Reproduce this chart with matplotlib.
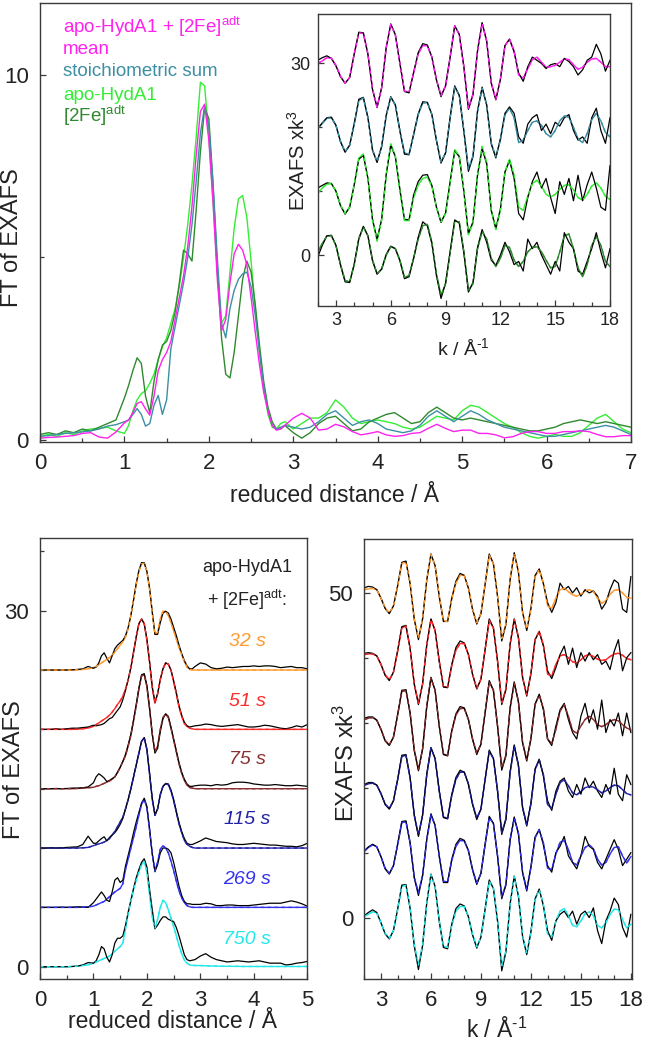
import numpy as np
import matplotlib
matplotlib.use('Agg')
import matplotlib.pyplot as plt
from matplotlib.ticker import MultipleLocator

plt.rcParams['font.family'] = ['Liberation Sans', 'DejaVu Sans']
plt.rcParams['mathtext.fontset'] = 'custom'
plt.rcParams['mathtext.rm'] = 'Liberation Sans'
plt.rcParams['mathtext.it'] = 'Liberation Sans:italic'

# ---- sampling grids (distance R in A, wavevector k in 1/A) ----
R_top = np.round(np.concatenate([np.arange(0, 0.95, 0.1), np.arange(1.0, 2.93, 0.05), np.arange(3.0, 7.05, 0.1)]), 2)
R_bot = np.round(np.concatenate([np.arange(0, 0.95, 0.1), np.arange(1.0, 2.93, 0.05), np.arange(3.0, 5.05, 0.1)]), 2)
K = np.round(np.arange(2.0, 18.01, 0.25), 2)

# ---- top panel: FT of EXAFS ----
mean_ft = [0.05, 0.07, 0.08, 0.10, 0.12, 0.18, 0.20, 0.08, 0.05, 0.22,
           0.47, 0.55, 0.75, 1.00, 1.05, 0.85, 0.68, 1.20, 1.90, 2.20,
           2.40, 2.70, 3.30, 3.90, 4.50, 5.30, 6.40, 7.80, 9.00, 9.20,
           8.20, 6.50, 4.40, 3.00, 3.30, 4.30, 5.10, 5.36, 5.20, 4.80,
           3.90, 2.95, 2.05, 1.30, 0.80, 0.40, 0.27, 0.30, 0.40,
           0.60, 0.73, 0.60, 0.27, 0.30, 0.43, 0.36, 0.23, 0.14, 0.18,
           0.23, 0.14, 0.10, 0.12, 0.18, 0.20, 0.32, 0.43, 0.32, 0.23,
           0.27, 0.27, 0.18, 0.18, 0.14, 0.06, 0.09, 0.18, 0.23, 0.23,
           0.18, 0.18, 0.23, 0.23, 0.25, 0.23, 0.15, 0.09, 0.09, 0.12,
           0.12]
sum_ft = [0.10, 0.12, 0.15, 0.18, 0.20, 0.22, 0.25, 0.30, 0.38, 0.42,
          0.50, 0.55, 0.70, 0.86, 0.70, 0.38, 0.45, 0.95, 1.22, 0.70,
          1.10, 2.50, 3.10, 3.70, 4.30, 5.00, 5.90, 7.10, 8.40, 9.15,
          8.60, 7.00, 5.00, 3.20, 2.80, 3.60, 4.10, 4.40, 4.55, 4.60,
          4.20, 3.40, 2.40, 1.50, 0.80, 0.40, 0.30, 0.35, 0.40,
          0.35, 0.30, 0.35, 0.50, 0.70, 0.80, 0.60, 0.40, 0.50, 0.55,
          0.45, 0.30, 0.25, 0.20, 0.25, 0.40, 0.65, 0.80, 0.65, 0.50,
          0.65, 0.80, 0.70, 0.55, 0.45, 0.35, 0.30, 0.25, 0.20, 0.15,
          0.10, 0.10, 0.15, 0.20, 0.25, 0.30, 0.35, 0.40, 0.35, 0.25,
          0.15]
apo_ft = [0.10, 0.15, 0.10, 0.20, 0.15, 0.25, 0.30, 0.32, 0.35, 0.25,
          0.18, 0.40, 0.80, 1.10, 1.27, 1.35, 1.55, 1.80, 2.20, 2.55,
          2.80, 3.20, 3.60, 4.20, 5.00, 5.90, 7.00, 8.30, 9.80, 9.70,
          8.30, 6.50, 4.60, 3.20, 3.40, 4.60, 5.80, 6.60, 6.70, 6.10,
          4.90, 3.60, 2.40, 1.40, 0.70, 0.35, 0.30, 0.45, 0.50,
          0.30, 0.45, 0.60, 0.60, 0.75, 1.10, 0.90, 0.60, 0.45, 0.50,
          0.55, 0.50, 0.45, 0.35, 0.30, 0.35, 0.50, 0.65, 0.60, 0.55,
          0.80, 0.95, 0.90, 0.75, 0.60, 0.45, 0.35, 0.20, 0.10, 0.05,
          0.10, 0.15, 0.10, 0.10, 0.20, 0.40, 0.60, 0.70, 0.50, 0.30,
          0.20]
fe_ft = [0.15, 0.20, 0.15, 0.25, 0.20, 0.30, 0.25, 0.35, 0.45, 0.55,
         1.15, 1.50, 1.90, 2.25, 2.10, 1.20, 0.75, 1.60, 2.20, 2.60,
         2.70, 3.00, 3.50, 4.30, 5.20, 5.10, 4.90, 6.30, 7.90, 9.10,
         8.80, 7.00, 4.70, 2.80, 1.80, 1.70, 2.40, 3.40, 4.40, 4.90,
         4.60, 3.70, 2.60, 1.60, 0.90, 0.50, 0.30, 0.30, 0.40,
         0.20, 0.05, 0.20, 0.45, 0.60, 0.65, 0.45, 0.25, 0.30, 0.50,
         0.60, 0.70, 0.75, 0.60, 0.45, 0.50, 0.75, 0.90, 0.75, 0.60,
         0.55, 0.60, 0.55, 0.50, 0.45, 0.40, 0.35, 0.30, 0.25, 0.25,
         0.30, 0.35, 0.45, 0.50, 0.55, 0.50, 0.45, 0.50, 0.45, 0.40,
         0.35]

# ---- inset: EXAFS x k^3 (fit / data), relative to each trace's offset ----
mean_k_fit = [0.0, 0.4, 0.9, 0.8, -0.3, -2.0, -3.1, -2.2,
              1.5, 4.8, 4.7, 1.5, -4.0, -6.8, -3.8, 2.5,
              6.1, 4.5, 0.0, -4.3, -4.5, -1.5, 1.5, 2.8,
              2.8, 1.0, -2.5, -5.0, -3.5, 1.0, 5.9, 4.5,
              -0.5, -7.0, -4.8, 2.0, 6.3, 3.5, -3.0, -5.6,
              -2.5, 2.8, 3.8, 2.0, -1.8, -2.3, -0.8, 0.6,
              1.0, 0.2, -0.6, -0.5, -0.3, 0.2, 0.7, 0.6,
              -0.2, -0.9, -0.6, 0.2, 0.7, 0.8, 0.2, -0.5,
              -0.5]
mean_k_dat = [0.5, 0.9, 1.2, 0.8, -0.4, -2.1, -3.1, -2.2,
              1.5, 4.9, 4.8, 1.4, -4.1, -6.9, -3.8, 2.5,
              6.2, 4.5, 0.0, -4.4, -4.6, -1.4, 1.7, 3.1,
              2.9, 1.0, -2.6, -5.2, -3.5, 1.0, 5.9, 4.6,
              -0.5, -7.2, -4.9, 2.0, 6.4, 3.5, -3.1, -5.7,
              -2.5, 2.8, 3.8, 1.8, -1.5, -2.8, -0.5, 1.0,
              0.5, 0.0, -0.8, -0.2, 0.0, -0.5, 0.8, 0.3,
              -0.5, -1.8, -1.0, 0.5, 1.0, 3.0, 1.5, -1.2,
              0.5]
sum_k_fit = [-0.2, 0.6, 1.4, 1.5, 0.3, -2.2, -3.8, -2.8,
             0.5, 4.2, 4.6, 1.5, -3.5, -5.4, -3.0, 1.8,
             4.7, 3.5, -0.5, -4.0, -4.2, -1.2, 2.0, 3.8,
             3.9, 2.0, -2.0, -5.4, -4.0, 1.5, 6.3, 5.0,
             -0.5, -6.5, -4.5, 2.5, 6.1, 3.5, -2.5, -4.6,
             -2.0, 2.0, 3.0, 1.5, -2.4, -2.0, -0.5, 0.8,
             1.0, 0.3, -1.0, -1.5, -0.5, 1.0, 1.8, 1.6,
             0.0, -1.8, -2.4, -1.0, 1.2, 2.2, 1.0, -0.8,
             -1.5]
sum_k_dat = [-0.2, 0.7, 1.5, 1.6, 0.3, -2.3, -3.9, -2.8,
             0.6, 4.4, 4.7, 1.5, -3.6, -5.5, -3.0, 1.9,
             4.8, 3.5, -0.6, -4.2, -4.3, -1.1, 2.1, 4.0,
             3.9, 2.0, -2.1, -5.6, -4.0, 1.6, 6.5, 5.0,
             -0.6, -6.9, -4.6, 2.6, 6.3, 3.5, -2.6, -4.8,
             -1.8, 2.2, 3.2, 2.2, -1.5, -2.5, 0.5, 1.5,
             2.0, -0.5, 0.5, -1.0, 0.8, 0.2, 1.5, 2.0,
             -0.5, -2.0, -1.5, -2.5, 1.5, 3.0, -0.5, -2.5,
             1.5]
apo_k_fit = [-0.3, 0.5, 1.1, 1.2, 0.0, -2.2, -3.5, -2.5,
             1.0, 5.2, 5.8, 2.0, -4.5, -7.8, -4.5, 2.5,
             7.4, 5.5, 0.0, -4.6, -4.6, -1.0, 1.0, 2.0,
             2.2, 0.8, -2.5, -4.8, -3.5, 1.5, 6.5, 5.5,
             0.0, -6.8, -5.0, 2.5, 7.0, 4.5, -3.0, -6.0,
             -3.0, 3.0, 5.0, 2.5, -2.5, -3.0, -0.8, 1.2,
             1.7, 0.8, -0.5, -0.9, -0.5, 0.3, 0.9, 1.0,
             0.2, -1.0, -1.4, -0.5, 0.8, 1.3, 0.5, -0.8,
             -1.3]
apo_k_dat = [0.5, 0.9, 1.3, 1.2, 0.0, -2.3, -3.6, -2.5,
             1.0, 5.0, 5.6, 2.0, -4.4, -7.5, -4.4, 2.6,
             7.2, 5.4, 0.3, -4.4, -4.5, -0.6, 1.5, 2.5,
             2.6, 0.9, -2.5, -4.9, -3.4, 1.5, 6.3, 5.4,
             0.0, -6.6, -4.8, 2.6, 6.6, 4.3, -3.0, -5.8,
             -2.8, 3.0, 4.8, 2.0, -3.5, -4.5, -1.0, 1.5,
             3.0, 0.5, 2.0, -1.0, -3.5, 1.5, -0.5, 2.0,
             -1.5, 2.5, -1.5, 1.0, 3.0, 0.5, -2.5, -3.0,
             4.0]
fe_k_fit = [0.5, 1.8, 3.0, 3.0, 1.5, -1.5, -4.0, -4.2,
            -1.5, 2.5, 4.4, 3.0, -0.8, -2.9, -2.2, 0.0,
            1.3, 1.0, -0.8, -3.5, -3.2, -0.5, 2.5, 4.6,
            4.8, 2.0, -3.0, -6.3, -4.5, 0.5, 5.3, 5.2,
            0.5, -5.5, -4.5, 1.0, 3.7, 2.5, -0.5, -1.8,
            -0.5, 1.5, 1.2, -0.8, -1.8, -1.0, 0.5, 1.2,
            1.3, 0.5, -0.8, -2.0, -1.8, 0.5, 3.0, 3.3,
            1.0, -2.0, -3.4, -1.5, 1.5, 2.9, 1.5, -1.0,
            -1.8]
fe_k_dat = [-0.3, 1.5, 3.0, 3.1, 1.5, -1.6, -4.2, -4.3,
            -1.4, 2.6, 4.5, 3.0, -0.9, -3.0, -2.2, 0.1,
            1.4, 1.0, -0.9, -3.7, -3.4, -0.5, 2.8, 5.2,
            4.6, 1.8, -3.2, -6.8, -4.4, 0.5, 5.5, 5.0,
            0.4, -5.8, -4.3, 1.2, 4.0, 2.0, -0.8, -1.6,
            0.0, 2.0, 0.5, -1.5, -1.0, -2.5, 2.5, 1.0,
            2.0, 0.0, -1.5, -3.0, -1.0, -2.5, 3.5, 2.0,
            1.0, -2.5, -3.0, -1.0, 1.0, 3.5, 0.5, -2.0,
            1.0]
inset_offsets = [30, 20, 10, 0]

# ---- bottom left: FT of the time series (fit / data) ----
fit32 = [0, 0, 0, 0, 0, 0, 0, 0.02, 0.05, 0.1,
         0.2, 0.3, 0.45, 0.6, 0.75, 0.9, 1.05, 1.25, 1.5, 1.8,
         2.1, 2.4, 2.8, 3.5, 4.6, 5.9, 7.2, 8.3, 8.95, 9.0,
         8.3, 6.8, 4.8, 3.0, 3.2, 4.3, 4.95, 4.95, 4.6, 4.0,
         3.3, 2.6, 1.9, 1.3, 0.7, 0.25, 0.05, 0, 0,
         0, 0, 0, 0, 0, 0, 0, 0, 0, 0,
         0, 0, 0, 0, 0, 0, 0, 0, 0, 0, 0]
dat32 = [0, 0, 0, 0, 0, 0, 0.02, 0.05, 0.1, 0.3,
         0.15, 0.25, 0.6, 1.2, 1.45, 1.0, 0.6, 1.2, 1.8, 2.1,
         2.3, 2.5, 2.9, 3.6, 4.6, 5.9, 7.3, 8.4, 9.05, 9.05,
         8.3, 6.9, 4.9, 3.0, 3.0, 4.0, 4.8, 4.95, 4.8, 4.3,
         3.6, 2.9, 2.1, 1.4, 0.8, 0.35, 0.1, 0.1, 0.3,
         0.6, 0.5, 0.2, 0.1, 0.15, 0.25, 0.2, 0.25, 0.3, 0.3,
         0.35, 0.3, 0.35, 0.35, 0.3, 0.2, 0.25, 0.3, 0.2, 0.2, 0.1]
fit51 = [0, 0, 0, 0, 0, 0, 0, 0.02, 0.05, 0.12,
         0.25, 0.4, 0.55, 0.7, 0.85, 1.0, 1.2, 1.45, 1.75, 2.1,
         2.4, 2.8, 3.4, 4.2, 5.2, 6.5, 7.8, 8.9, 9.3, 8.9,
         7.5, 5.6, 3.5, 2.2, 3.0, 4.2, 5.1, 5.6, 5.5, 5.0,
         4.0, 3.0, 1.9, 1.1, 0.5, 0.25, 0.1, 0.05, 0,
         0, 0, 0, 0, 0, 0, 0, 0, 0, 0,
         0, 0, 0, 0, 0, 0, 0, 0, 0, 0, 0]
dat51 = [0, 0, 0, 0.05, 0, 0.05, 0.1, 0.1, 0.15, 0.2,
         0.35, 0.3, 0.35, 0.4, 0.5, 0.7, 0.9, 1.0, 1.3, 1.6,
         1.9, 2.5, 3.3, 4.2, 5.2, 6.5, 7.8, 8.9, 9.3, 8.9,
         7.6, 5.7, 3.6, 2.3, 3.0, 4.2, 5.1, 5.6, 5.5, 5.0,
         4.1, 3.1, 2.0, 1.2, 0.6, 0.3, 0.2, 0.25, 0.3,
         0.35, 0.45, 0.4, 0.3, 0.25, 0.3, 0.35, 0.4, 0.3, 0.2,
         0.2, 0.25, 0.35, 0.3, 0.2, 0.1, 0.05, 0.15, 0.3, 0.2, 0.4]
fit75 = [0, 0, 0, 0, 0, 0, 0, 0.02, 0.05, 0.08,
         0.12, 0.2, 0.25, 0.35, 0.45, 0.55, 0.65, 0.8, 1.0, 1.35,
         1.8, 2.3, 2.8, 3.6, 4.5, 5.7, 7.0, 8.4, 9.5, 9.6,
         8.6, 6.7, 4.6, 3.1, 3.6, 5.0, 6.0, 6.3, 6.0, 5.1,
         4.1, 3.1, 2.1, 1.3, 0.7, 0.3, 0.1, 0.05, 0,
         0, 0, 0, 0, 0, 0, 0, 0, 0, 0,
         0, 0, 0, 0, 0, 0, 0, 0, 0, 0, 0]
dat75 = [0, 0, 0, 0.02, 0, 0.02, 0.05, 0.05, 0.08, 0.15,
         0.5, 1.0, 1.26, 1.1, 0.9, 0.6, 0.7, 0.85, 1.0, 1.4,
         1.8, 2.3, 2.9, 3.7, 4.6, 5.8, 7.1, 8.5, 9.6, 9.7,
         8.7, 6.8, 4.6, 3.0, 3.4, 4.8, 5.9, 6.3, 6.1, 5.2,
         4.2, 3.2, 2.2, 1.4, 0.8, 0.4, 0.2, 0.2, 0.25,
         0.3, 0.3, 0.25, 0.35, 0.3, 0.35, 0.5, 0.55, 0.55, 0.5,
         0.4, 0.35, 0.3, 0.3, 0.35, 0.3, 0.25, 0.25, 0.3, 0.25, 0.2]
fit115 = [0, 0, 0, 0, 0, 0, 0, 0, 0.02, 0.05,
          0.2, 0.28, 0.35, 0.42, 0.5, 0.65, 0.8, 1.1, 1.4, 1.8,
          2.2, 2.6, 3.3, 4.1, 5.0, 6.0, 7.0, 8.0, 9.0, 9.3,
          8.3, 6.2, 4.1, 2.75, 3.3, 4.5, 5.2, 5.4, 5.35, 4.8,
          4.0, 3.0, 2.05, 1.3, 0.65, 0.3, 0.15, 0.05, 0,
          0, 0, 0, 0, 0, 0, 0, 0, 0, 0,
          0, 0, 0, 0, 0, 0, 0, 0, 0, 0, 0]
dat115 = [0, 0, 0.02, 0, 0.02, 0.05, 0.08, 0.1, 0.3, 1.0,
          0.4, 0.4, 0.6, 0.8, 0.95, 0.6, 0.9, 1.1, 1.3, 1.6,
          2.0, 2.5, 3.3, 4.1, 5.0, 6.0, 7.0, 8.0, 9.0, 9.3,
          8.3, 6.3, 4.2, 2.8, 3.3, 4.5, 5.2, 5.45, 5.4, 4.9,
          4.1, 3.1, 2.15, 1.4, 0.8, 0.4, 0.3, 0.3, 0.4,
          0.6, 0.85, 0.7, 0.55, 0.5, 0.45, 0.35, 0.3, 0.3, 0.35,
          0.4, 0.35, 0.3, 0.25, 0.25, 0.2, 0.15, 0.15, 0.1, 0.2, 0.4]
fit269 = [0, 0, 0, 0, 0, 0, 0, 0, 0.02, 0.05,
          0.1, 0.2, 0.3, 0.4, 0.5, 0.7, 0.9, 1.1, 1.3, 1.45,
          1.6, 2.0, 3.2, 4.1, 5.0, 5.9, 6.8, 7.8, 8.7, 9.1,
          8.4, 6.5, 4.5, 3.1, 3.8, 4.9, 5.2, 5.0, 4.6, 3.9,
          3.1, 2.2, 1.4, 0.8, 0.4, 0.15, 0.05, 0, 0,
          0, 0, 0, 0, 0, 0, 0, 0, 0, 0,
          0, 0, 0, 0, 0, 0, 0, 0, 0, 0, 0]
dat269 = [0, 0, 0, 0, 0.02, 0, 0.02, 0.05, 0.02, 0.0,
          0.4, 0.7, 1.0, 1.3, 1.0, 0.6, 0.5, 1.3, 2.3, 2.5,
          2.1, 2.3, 3.5, 4.4, 5.3, 6.3, 7.2, 8.0, 8.8, 9.2,
          8.5, 6.6, 4.5, 3.0, 3.6, 4.6, 5.0, 5.0, 4.9, 4.6,
          3.8, 2.8, 1.8, 1.0, 0.5, 0.3, 0.3, 0.25, 0.25,
          0.25, 0.35, 0.3, 0.15, 0.15, 0.2, 0.2, 0.15, 0.15, 0.15,
          0.2, 0.25, 0.3, 0.35, 0.35, 0.35, 0.45, 0.55, 0.45, 0.3, 0.1]
fit750 = [0, 0, 0, 0, 0, 0, 0.02, 0.05, 0.1, 0.15,
          0.3, 0.4, 0.5, 0.6, 0.7, 0.8, 0.9, 1.1, 1.3, 1.5,
          1.7, 2.0, 3.2, 4.5, 5.5, 6.5, 7.3, 8.0, 8.6, 8.85,
          8.0, 6.0, 4.2, 3.2, 4.0, 5.0, 5.6, 5.4, 4.8, 4.1,
          3.4, 2.6, 1.8, 1.1, 0.56, 0.3, 0.15, 0.12, 0.1,
          0.1, 0.08, 0.06, 0.05, 0.04, 0.04, 0.03, 0.03, 0.02, 0.02,
          0.02, 0.02, 0.02, 0.02, 0.02, 0.02, 0.02, 0.02, 0.02, 0.02, 0.02]
dat750 = [0, 0, 0, 0, 0, 0, 0.02, 0.05, 0.15, 0.35,
          0.3, 0.5, 1.0, 1.7, 1.5, 0.8, 0.4, 1.0, 2.0, 2.4,
          2.4, 2.6, 3.5, 4.6, 5.6, 6.6, 7.5, 8.2, 8.8, 9.1,
          8.4, 6.5, 4.8, 3.2, 3.5, 3.9, 4.2, 4.2, 4.0, 3.9,
          3.8, 3.3, 2.6, 1.8, 1.0, 0.6, 0.5, 0.55, 0.6,
          0.9, 1.1, 0.8, 0.6, 0.5, 0.4, 0.45, 0.5, 0.45, 0.4,
          0.45, 0.5, 0.4, 0.3, 0.3, 0.3, 0.15, 0.2, 0.3, 0.35, 0.45]

# ---- bottom right: EXAFS x k^3 of the time series (fit / data) ----
k32_fit = [0.5, 0.6, 0.7, 0.5, -0.8, -2.3, -3.1, -2.0,
           1.0, 4.5, 4.8, 1.5, -4.0, -7.0, -4.0, 2.0,
           5.9, 4.2, -0.5, -4.3, -4.4, -1.0, 1.5, 2.7,
           2.7, 0.8, -2.5, -4.6, -3.2, 1.2, 5.8, 4.5,
           -0.5, -7.0, -4.8, 2.0, 6.1, 3.3, -3.0, -5.6,
           -2.5, 2.5, 3.6, 1.5, -2.0, -2.4, -0.8, 0.5,
           0.7, 0.2, -0.3, -0.5, -0.2, 0.3, 0.5, 0.2,
           -0.8, -1.6, -1.2, -0.2, 0.4, 0.5, 0.0, -0.7,
           -0.8]
k32_dat = [0.8, 1.0, 0.9, 0.5, -0.8, -2.4, -3.2, -2.0,
           1.1, 4.7, 4.9, 1.4, -4.1, -7.2, -4.0, 2.0,
           6.0, 4.2, -0.6, -4.4, -4.4, -0.8, 1.8, 3.0,
           2.7, 0.7, -2.6, -4.8, -3.2, 1.3, 6.0, 4.5,
           -0.6, -7.4, -4.9, 2.0, 6.2, 3.2, -3.0, -5.8,
           -2.4, 2.7, 3.7, 1.4, -1.5, -3.0, -1.5, 1.5,
           0.5, 1.0, 0.0, 0.8, -0.5, 0.5, 0.0, 0.3,
           -0.5, -2.5, -1.5, 0.5, 2.0, 1.5, -2.5, -3.0,
           2.5]
k51_fit = [0.5, 0.6, 0.6, 0.3, -1.0, -2.6, -3.4, -2.2,
           1.0, 4.6, 4.9, 1.5, -4.0, -7.0, -4.0, 2.0,
           5.9, 4.2, -0.5, -4.4, -4.5, -1.2, 1.2, 2.2,
           2.2, 0.5, -2.5, -4.7, -3.3, 1.2, 5.8, 4.6,
           -0.5, -6.9, -4.8, 2.0, 5.9, 3.2, -3.0, -5.7,
           -2.5, 2.8, 4.1, 2.0, -2.5, -2.8, -1.0, 0.3,
           0.5, 0.0, -0.6, -0.8, -0.3, 0.3, 0.5, 0.2,
           -0.2, -0.4, -0.3, 0.2, 0.6, 0.7, 0.4, -0.1,
           -0.3]
k51_dat = [0.7, 0.8, 0.7, 0.3, -1.0, -2.7, -3.5, -2.2,
           1.1, 4.8, 5.0, 1.4, -4.1, -7.2, -4.0, 2.0,
           6.0, 4.2, -0.6, -4.5, -4.6, -1.0, 1.6, 2.6,
           2.3, 0.5, -2.6, -4.8, -3.3, 1.3, 6.0, 4.6,
           -0.6, -7.2, -4.9, 2.1, 6.0, 3.1, -3.0, -5.9,
           -2.4, 2.8, 4.0, 1.8, -2.0, -3.2, -1.5, 0.5,
           1.8, -1.0, 1.5, -1.5, 0.8, -0.5, 0.8, -0.3,
           0.5, -1.0, -0.5, -1.8, 1.0, 2.8, -2.0, 0.0,
           0.8]
k75_fit = [0.5, 0.7, 0.8, 0.4, -1.0, -2.7, -3.4, -2.2,
           1.2, 4.8, 5.0, 1.5, -4.2, -7.2, -4.0, 2.5,
           6.9, 5.0, -0.5, -4.8, -5.0, -1.3, 1.2, 2.2,
           2.2, 0.5, -2.5, -4.7, -3.3, 1.5, 6.3, 5.0,
           -0.5, -7.0, -5.0, 2.2, 6.1, 3.3, -3.0, -5.7,
           -2.5, 2.8, 4.3, 2.2, -2.5, -3.2, -1.0, 1.8,
           2.8, 1.0, -1.2, -1.6, -0.5, 0.5, 1.0, 0.5,
           -0.3, -0.6, -0.3, 0.2, 0.5, 0.3, -0.3, -0.8,
           -1.1]
k75_dat = [0.7, 0.9, 0.9, 0.4, -1.0, -2.8, -3.5, -2.2,
           1.2, 5.0, 5.1, 1.5, -4.3, -7.4, -4.0, 2.6,
           7.0, 5.0, -0.6, -4.9, -5.1, -1.2, 1.4, 2.5,
           2.3, 0.5, -2.6, -4.9, -3.3, 1.6, 6.5, 5.0,
           -0.6, -7.3, -5.1, 2.3, 6.3, 3.2, -3.1, -5.9,
           -2.4, 2.9, 4.4, 2.0, -2.5, -3.5, -0.5, 2.0,
           3.0, 0.5, -1.5, -2.5, 1.0, 3.0, 0.0, 2.0,
           -1.0, 3.5, -1.5, 0.5, -0.5, 1.5, -2.0, 1.5,
           -1.5]
k115_fit = [0.4, 0.6, 0.7, 0.4, -0.9, -2.5, -3.2, -2.0,
            1.2, 4.8, 5.0, 1.5, -4.2, -7.3, -4.2, 2.0,
            6.1, 4.5, -0.5, -4.5, -4.7, -1.2, 1.3, 2.4,
            2.4, 0.6, -2.5, -4.7, -3.3, 1.2, 5.6, 4.5,
            -0.5, -6.9, -4.8, 2.3, 6.4, 3.5, -3.0, -5.7,
            -2.5, 2.8, 4.3, 2.0, -2.6, -3.2, -1.0, 0.8,
            1.2, 0.3, -0.8, -1.1, -0.6, 0.0, 0.2, 0.1,
            -0.3, -0.8, -0.5, 0.0, 0.4, 0.3, -0.3, -0.9,
            -1.1]
k115_dat = [0.5, 0.8, 0.8, 0.4, -0.9, -2.6, -3.3, -2.0,
            1.3, 5.0, 5.1, 1.5, -4.3, -7.5, -4.2, 2.1,
            6.2, 4.5, -0.6, -4.6, -4.8, -1.0, 1.6, 2.7,
            2.4, 0.5, -2.6, -4.9, -3.3, 1.3, 5.8, 4.5,
            -0.6, -7.2, -4.9, 2.4, 6.6, 3.4, -3.1, -5.9,
            -2.4, 2.9, 4.4, 1.8, -2.0, -3.5, -0.5, 1.0,
            1.5, -0.5, -1.5, 0.5, -1.0, 1.5, 0.0, 1.0,
            -0.5, -1.5, 0.5, -1.0, 3.0, -1.0, -2.0, 2.0,
            0.5]
k269_fit = [0.2, 0.8, 1.2, 0.9, -0.6, -2.4, -3.2, -2.0,
            1.2, 4.6, 4.8, 1.5, -3.8, -6.2, -3.5, 2.0,
            5.8, 4.2, -0.5, -4.4, -4.5, -1.2, 1.0, 1.9,
            1.8, 0.3, -2.6, -4.7, -3.2, 1.2, 5.4, 4.5,
            -0.5, -6.8, -4.9, 1.9, 5.3, 3.0, -3.0, -5.7,
            -2.3, 2.3, 3.5, 1.5, -2.4, -2.6, -0.2, 1.6,
            1.9, 0.5, -1.5, -1.9, -0.5, 0.8, 1.2, 0.6,
            -1.0, -1.9, -1.5, -0.2, 0.8, 0.9, -0.5, -1.6,
            -0.6]
k269_dat = [0.3, 0.9, 1.3, 0.9, -0.6, -2.5, -3.3, -2.0,
            1.3, 4.8, 4.9, 1.5, -3.9, -6.6, -3.5, 2.1,
            6.0, 4.2, -0.6, -4.6, -4.6, -1.0, 1.3, 2.2,
            1.9, 0.3, -2.7, -4.9, -3.2, 1.3, 5.6, 4.5,
            -0.6, -7.1, -5.0, 2.0, 5.5, 2.9, -3.1, -5.9,
            -2.2, 2.4, 3.6, 1.2, -2.0, -3.0, 0.0, 1.0,
            2.5, -0.5, -1.5, -2.5, -0.5, 2.5, 1.0, 0.5,
            -1.5, -2.5, -1.0, 0.5, 2.0, 0.5, -2.0, -1.0,
            0.0]
k750_fit = [0.2, 0.5, 0.9, 0.7, -0.8, -2.4, -3.2, -2.0,
            1.2, 4.8, 5.0, 1.5, -4.2, -7.3, -4.2, 2.2,
            6.6, 4.8, -0.5, -4.4, -4.6, -1.2, 1.0, 1.7,
            1.7, 0.2, -2.6, -4.5, -3.0, 1.2, 5.6, 4.5,
            -0.5, -7.4, -5.2, 2.0, 6.3, 3.4, -2.8, -5.5,
            -2.3, 2.8, 4.3, 2.0, -2.5, -3.0, -0.5, 1.0,
            1.4, 0.3, -1.2, -1.4, -0.5, 0.6, 0.9, 0.3,
            -1.2, -1.6, -0.8, 0.5, 1.3, 1.2, -0.3, -1.6,
            -1.0]
k750_dat = [0.3, 0.8, 1.2, 0.8, -0.8, -2.5, -3.3, -2.0,
            1.3, 5.0, 5.1, 1.4, -4.4, -8.0, -4.3, 2.3,
            6.7, 4.8, -0.6, -4.6, -4.8, -1.0, 1.4, 2.1,
            1.8, 0.1, -2.7, -4.7, -3.0, 1.3, 5.8, 4.5,
            -0.6, -8.2, -5.3, 2.1, 6.4, 3.3, -2.9, -5.7,
            -2.2, 2.9, 4.4, 1.8, -2.0, -3.5, -0.5, 0.5,
            1.0, 0.0, 1.0, -1.0, 0.5, 1.0, 0.0, 1.5,
            -2.0, -4.0, -0.5, 1.0, 3.0, 2.0, -1.5, -3.0,
            0.5]

times = ['32 s', '51 s', '75 s', '115 s', '269 s', '750 s']
ft_offsets = [25, 20, 15, 10, 5, 0]
k_offsets = [50, 40, 30, 20, 10, 0]

C_MAG, C_TEAL, C_GREEN, C_DKGREEN = '#ff22ee', '#3d8fa3', '#33ee33', '#2f8a2f'
series_colors = ['#ff9a2e', '#ff2a2a', '#8b3030', '#2222a8', '#3333f0', '#22e8e8']
SPINE = '#3a3a3a'
INV_K = r'k / Å$^{\mathregular{‐1}}$'
XK3 = r'EXAFS xk$^{\mathregular{3}}$'

W, H = 645, 1042
fig = plt.figure(figsize=(W / 100, H / 100), dpi=100)


def box(l, t, r, b):
    return [l / W, 1 - b / H, (r - l) / W, (b - t) / H]


def ptext(x, y, s, **kw):
    fig.text(x / W, 1 - y / H, s, ha=kw.pop('ha', 'center'), va=kw.pop('va', 'center'), **kw)


def style(ax, xmaj, xmin, ymaj, ymin, size, pad):
    for s in ax.spines.values():
        s.set_color(SPINE)
        s.set_linewidth(1.0)
    ax.xaxis.set_major_locator(MultipleLocator(xmaj))
    ax.xaxis.set_minor_locator(MultipleLocator(xmin))
    ax.yaxis.set_major_locator(MultipleLocator(ymaj))
    ax.yaxis.set_minor_locator(MultipleLocator(ymin))
    ax.tick_params(which='both', direction='in', color=SPINE, labelcolor='#222222',
                   labelsize=size, top=False, right=False)
    ax.tick_params(which='major', length=4.5, width=0.9, pad=pad)
    ax.tick_params(which='minor', length=2.8, width=0.9)


def overlay(ax, x, fit, dat, off, color):
    # colored fit, black data, then dashed fit so both show where they overlap
    ax.plot(x, np.array(fit) + off, color=color, lw=1.0)
    ax.plot(x, np.array(dat) + off, color='black', lw=0.9)
    ax.plot(x, np.array(fit) + off, color=color, lw=1.0, dashes=(2.5, 2.5))


# top panel
ax = fig.add_axes(box(40, 3, 631, 442))
ax.plot(R_top, apo_ft, color=C_GREEN, lw=1.0)
ax.plot(R_top, fe_ft, color=C_DKGREEN, lw=1.0)
ax.plot(R_top, sum_ft, color=C_TEAL, lw=1.0)
ax.plot(R_top, mean_ft, color=C_MAG, lw=1.0)
ax.set_xlim(0, 7)
ax.set_ylim(-0.055, 11.97)
style(ax, 1, 0.5, 10, 5, 16, 8)
ptext(12, 238, 'FT of EXAFS', rotation=90, size=17, color='#222222')
ptext(334, 495, 'reduced distance / Å', size=16.5, color='#222222')

legend_rows = [(27, r'apo-HydA1 + [2Fe]$^{\mathregular{adt}}$', C_MAG), (50, 'mean', C_MAG),
               (72, 'stoichiometric sum', C_TEAL), (95, 'apo-HydA1', C_GREEN),
               (116, r'[2Fe]$^{\mathregular{adt}}$', C_DKGREEN)]
for y, s, c in legend_rows:
    ptext(63, y, s, ha='left', size=13.5, color=c)

# inset
axi = fig.add_axes(box(317.7, 14.3, 610, 305.5))
axi.set_zorder(5)
for fit, dat, off, c in zip([mean_k_fit, sum_k_fit, apo_k_fit, fe_k_fit],
                            [mean_k_dat, sum_k_dat, apo_k_dat, fe_k_dat],
                            inset_offsets, [C_MAG, C_TEAL, C_GREEN, C_DKGREEN]):
    overlay(axi, K, fit, dat, off, c)
axi.set_xlim(2, 18)
axi.set_ylim(-7.9, 37.7)
style(axi, 3, 1, 30, 10, 13, 5)
ptext(298, 160, XK3, rotation=90, size=14.5, color='#222222')
ptext(463, 348, INV_K, size=14, color='#222222')

# bottom left
axl = fig.add_axes(box(40, 538.3, 307.3, 979.3))
for fit, dat, off, c in zip([fit32, fit51, fit75, fit115, fit269, fit750],
                            [dat32, dat51, dat75, dat115, dat269, dat750],
                            ft_offsets, series_colors):
    overlay(axl, R_bot, fit, dat, off, c)
axl.set_xlim(0, 5)
axl.set_ylim(-1.06, 36.1)
style(axl, 1, 0.5, 30, 5, 16, 8)
ptext(14, 770, 'FT of EXAFS', rotation=90, size=17, color='#222222')
ptext(173, 1022, 'reduced distance / Å', size=16.5, color='#222222')
ptext(247, 568, 'apo-HydA1', size=13, color='#222222')
ptext(247, 600, r'+ [2Fe]$^{\mathregular{adt}}$:', size=13, color='#222222')
for y, s, c in zip([642, 702, 760, 820, 880, 940], times, series_colors):
    ptext(247, y, s, size=14, style='italic', color=c)

# bottom right
axr = fig.add_axes(box(364.3, 539, 631.7, 979.3))
for fit, dat, off, c in zip([k32_fit, k51_fit, k75_fit, k115_fit, k269_fit, k750_fit],
                            [k32_dat, k51_dat, k75_dat, k115_dat, k269_dat, k750_dat],
                            k_offsets, series_colors):
    overlay(axr, K, fit, dat, off, c)
axr.set_xlim(2, 18.05)
axr.set_ylim(-9.5, 58.3)
style(axr, 3, 1, 50, 10, 16, 8)
ptext(346, 763, XK3, rotation=90, size=17, color='#222222')
ptext(497, 1030, INV_K, size=16.5, color='#222222')

fig.savefig('out.png', dpi=100)
